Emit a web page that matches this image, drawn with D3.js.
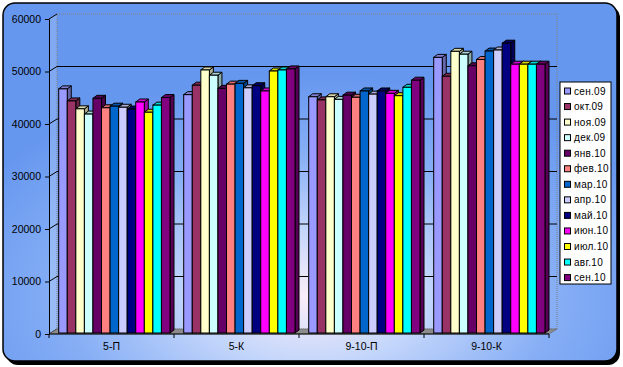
<!DOCTYPE html>
<html><head><meta charset="utf-8">
<script src="https://cdn.jsdelivr.net/npm/d3@7"></script>
<style>body{margin:0;background:#fff}svg{display:block}text{font-family:Arial,"Liberation Sans",sans-serif}</style>
</head><body><svg id="c" width="623" height="367"></svg>
<script>
const categories = ["5-П", "5-К", "9-10-П", "9-10-К"];
const seriesNames = ["сен.09","окт.09","ноя.09","дек.09","янв.10","фев.10","мар.10","апр.10","май.10","июн.10","июл.10","авг.10","сен.10"];
const seriesColors = ["#9999FF","#993366","#FFFFCC","#CCFFFF","#660066","#FF8080","#0066CC","#CCCCFF","#000080","#FF00FF","#FFFF00","#00FFFF","#800080"];
// values[series][category]
const values = [
  [46500, 45400, 45000, 52500],
  [44200, 47200, 44400, 48900],
  [42700, 50100, 45000, 53650],
  [41700, 49100, 44500, 53100],
  [44700, 46600, 45300, 50900],
  [42900, 47400, 44900, 52100],
  [43200, 47550, 46100, 53700],
  [43000, 46700, 45500, 53900],
  [42650, 47100, 46100, 55200],
  [44000, 46100, 45650, 51200],
  [42050, 49900, 45200, 51200],
  [43400, 50100, 46800, 51200],
  [44850, 50300, 48150, 51200]
];
const yTicks = [0,10000,20000,30000,40000,50000,60000];

const svg = d3.select("#c");
const defs = svg.append("defs");
const rg = defs.append("radialGradient").attr("id","bg").attr("cx","50%").attr("cy","82%").attr("r","62%");
rg.append("stop").attr("offset","0%").attr("stop-color","#fbeef8");
rg.append("stop").attr("offset","30%").attr("stop-color","#c4d6fb");
rg.append("stop").attr("offset","65%").attr("stop-color","#86aef5");
rg.append("stop").attr("offset","100%").attr("stop-color","#6697ef");

// chart area with shadow
svg.append("rect").attr("x",6).attr("y",6).attr("width",614).attr("height",359).attr("rx",12).attr("fill","#000");
svg.append("rect").attr("x",3).attr("y",3).attr("width",614).attr("height",358).attr("rx",12)
  .attr("fill","url(#bg)").attr("stroke","#000").attr("stroke-width",1.5);

const x = d3.scaleBand().domain(categories).range([49,549]).padding(0);
const y = d3.scaleLinear().domain([0,60000]).range([334,19]);
const inner = d3.scaleBand().domain(seriesNames).range([9.7, 121]).padding(0);
const DX = 8, DY = -5;   // wall depth
const bx = 4, by = -3;   // bar depth

// side wall (left)
svg.append("polygon")
  .attr("points", [[49,y(60000)],[49+DX,y(60000)+DY],[49+DX,y(0)+DY],[49,y(0)]].join(" "))
  .attr("fill","#ffffff").attr("fill-opacity",0.18).attr("stroke","none");
// back wall outline
svg.append("rect").attr("x",49+DX).attr("y",y(60000)+DY).attr("width",500).attr("height",y(0)-y(60000))
  .attr("fill","none").attr("stroke","#808080").attr("stroke-width",1).attr("stroke-dasharray","1,1");
// gridlines on back wall
svg.append("g").selectAll("line").data(yTicks.filter(d=>d>0 && d<60000)).join("line")
  .attr("x1",49+DX).attr("x2",549+DX).attr("y1",d=>y(d)+DY).attr("y2",d=>y(d)+DY)
  .attr("stroke","#000").attr("stroke-width",1);
// connectors on side wall
svg.append("g").selectAll("line").data(yTicks).join("line")
  .attr("x1",49).attr("x2",49+DX).attr("y1",d=>y(d)).attr("y2",d=>y(d)+DY)
  .attr("stroke","#000").attr("stroke-width",1);
// floor
svg.append("polygon")
  .attr("points", [[49,y(0)],[549,y(0)],[549+DX,y(0)+DY],[49+DX,y(0)+DY]].join(" "))
  .attr("fill","#8c8c8c").attr("stroke","#555").attr("stroke-width",0.5);

// bars
const groups = svg.append("g").selectAll("g").data(categories).join("g")
  .attr("transform", c => `translate(${x(c)},0)`);
const base = y(0) - 1;
groups.each(function(c, ci){
  const g = d3.select(this);
  seriesNames.forEach((s, si) => {
    const v = values[si][ci];
    const x0 = inner(s), w = inner.bandwidth();
    const yt = y(v) - 1;
    const col = d3.color(seriesColors[si]);
    const dark = col.darker(1.1).formatHex();
    const mid = col.darker(0.5).formatHex();
    // side
    g.append("polygon").attr("points", [[x0+w,yt],[x0+w+bx,yt+by],[x0+w+bx,base+by],[x0+w,base]].join(" "))
      .attr("fill", dark).attr("stroke","#000").attr("stroke-width",1).attr("stroke-linejoin","round");
    // top
    g.append("polygon").attr("points", [[x0,yt],[x0+w,yt],[x0+w+bx,yt+by],[x0+bx,yt+by]].join(" "))
      .attr("fill", mid).attr("stroke","#000").attr("stroke-width",1).attr("stroke-linejoin","round");
    // front
    g.append("rect").attr("x",x0).attr("y",yt).attr("width",w).attr("height",base-yt)
      .attr("fill", seriesColors[si]).attr("stroke","#000").attr("stroke-width",1);
  });
});

// y axis
const yAxis = svg.append("g").attr("transform","translate(49,0)")
  .call(d3.axisLeft(y).tickValues(yTicks).tickFormat(d3.format("d")).tickSize(4).tickSizeOuter(0).tickPadding(4));
yAxis.select(".domain").attr("stroke","#000");
yAxis.selectAll("line").attr("stroke","#000");
yAxis.selectAll("text").attr("font-size","10.5px").attr("fill","#000");

// x axis
const xAxis = svg.append("g").attr("transform",`translate(0,${y(0)})`)
  .call(d3.axisBottom(x).tickSize(0).tickPadding(9));
xAxis.select(".domain").attr("stroke","#000").attr("d","M49,0H549");
xAxis.selectAll("text").attr("font-size","10.5px").attr("fill","#000");
svg.append("g").selectAll("line").data(categories.map(c=>x(c)).concat([549])).join("line")
  .attr("x1",d=>d).attr("x2",d=>d).attr("y1",y(0)).attr("y2",y(0)+4).attr("stroke","#000");

// legend
const lg = svg.append("g");
lg.append("rect").attr("x",560).attr("y",82).attr("width",51).attr("height",202)
  .attr("fill","#fff").attr("stroke","#000").attr("stroke-width",1);
const items = lg.selectAll("g").data(seriesNames).join("g")
  .attr("transform",(d,i)=>`translate(564,${91 + i*15.55})`);
items.append("rect").attr("x",0.5).attr("y",-3).attr("width",6).attr("height",6)
  .attr("fill",(d,i)=>seriesColors[i]).attr("stroke","#000").attr("stroke-width",1);
items.append("text").attr("x",10).attr("y",0).attr("dy","0.35em").attr("font-size","10px")
  .attr("letter-spacing","0.3px").text(d=>d);
</script>
</body></html>
